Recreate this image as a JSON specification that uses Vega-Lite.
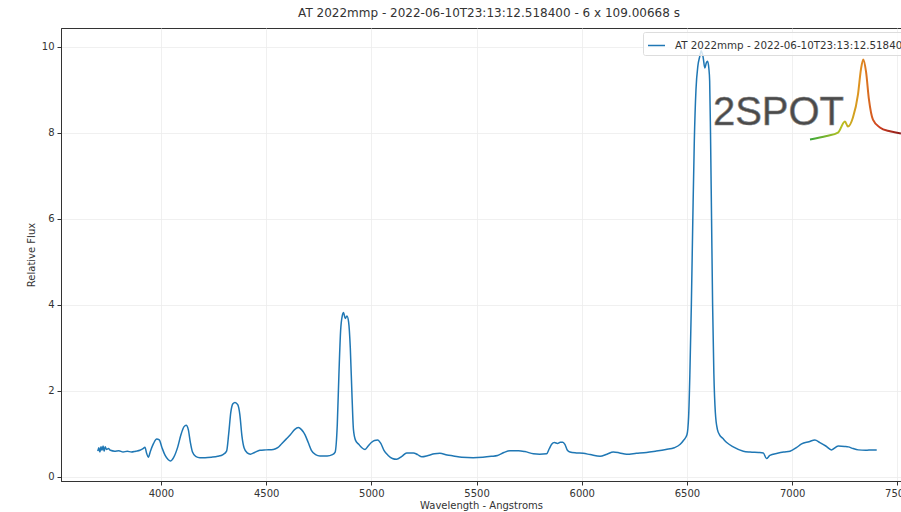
{
  "$schema": "https://vega.github.io/schema/vega-lite/v6.json",
  "autosize": {"type": "none"},
  "padding": {"left": 61, "top": 28, "right": 0, "bottom": 31},
  "width": 840,
  "height": 453,
  "background": "white",
  "title": {
    "text": "AT 2022mmp - 2022-06-10T23:13:12.518400 - 6 x 109.00668 s",
    "font": "DejaVu Sans",
    "fontSize": 12,
    "fontWeight": "normal",
    "color": "#333",
    "anchor": "middle",
    "offset": 8,
    "dx": 8
  },
  "datasets": {
    "spectrum": [
      {"wavelength": 3700, "flux": 0.60}, {"wavelength": 3705, "flux": 0.68}, {"wavelength": 3710, "flux": 0.58},
      {"wavelength": 3715, "flux": 0.70}, {"wavelength": 3720, "flux": 0.62}, {"wavelength": 3725, "flux": 0.72},
      {"wavelength": 3730, "flux": 0.60}, {"wavelength": 3735, "flux": 0.70}, {"wavelength": 3742, "flux": 0.64},
      {"wavelength": 3750, "flux": 0.66}, {"wavelength": 3760, "flux": 0.62}, {"wavelength": 3780, "flux": 0.60},
      {"wavelength": 3800, "flux": 0.61}, {"wavelength": 3820, "flux": 0.58}, {"wavelength": 3840, "flux": 0.60},
      {"wavelength": 3860, "flux": 0.58}, {"wavelength": 3880, "flux": 0.60}, {"wavelength": 3900, "flux": 0.62},
      {"wavelength": 3915, "flux": 0.66}, {"wavelength": 3924, "flux": 0.69}, {"wavelength": 3932, "flux": 0.55},
      {"wavelength": 3940, "flux": 0.46}, {"wavelength": 3950, "flux": 0.60}, {"wavelength": 3965, "flux": 0.78},
      {"wavelength": 3980, "flux": 0.88}, {"wavelength": 3992, "flux": 0.86}, {"wavelength": 4005, "flux": 0.68},
      {"wavelength": 4020, "flux": 0.50}, {"wavelength": 4035, "flux": 0.40}, {"wavelength": 4045, "flux": 0.37},
      {"wavelength": 4060, "flux": 0.45}, {"wavelength": 4080, "flux": 0.70}, {"wavelength": 4095, "flux": 0.98},
      {"wavelength": 4110, "flux": 1.17}, {"wavelength": 4120, "flux": 1.20}, {"wavelength": 4130, "flux": 1.10},
      {"wavelength": 4140, "flux": 0.80}, {"wavelength": 4150, "flux": 0.58}, {"wavelength": 4165, "flux": 0.48},
      {"wavelength": 4185, "flux": 0.45}, {"wavelength": 4210, "flux": 0.45}, {"wavelength": 4240, "flux": 0.46},
      {"wavelength": 4270, "flux": 0.48}, {"wavelength": 4295, "flux": 0.52}, {"wavelength": 4312, "flux": 0.60},
      {"wavelength": 4322, "flux": 1.00}, {"wavelength": 4332, "flux": 1.50}, {"wavelength": 4342, "flux": 1.70},
      {"wavelength": 4352, "flux": 1.73}, {"wavelength": 4365, "flux": 1.68}, {"wavelength": 4375, "flux": 1.45},
      {"wavelength": 4385, "flux": 0.95}, {"wavelength": 4395, "flux": 0.68}, {"wavelength": 4410, "flux": 0.56},
      {"wavelength": 4425, "flux": 0.53}, {"wavelength": 4445, "flux": 0.57}, {"wavelength": 4470, "flux": 0.62},
      {"wavelength": 4500, "flux": 0.63}, {"wavelength": 4534, "flux": 0.64}, {"wavelength": 4555, "flux": 0.68},
      {"wavelength": 4575, "flux": 0.78}, {"wavelength": 4595, "flux": 0.88}, {"wavelength": 4615, "flux": 0.98},
      {"wavelength": 4635, "flux": 1.10}, {"wavelength": 4653, "flux": 1.15}, {"wavelength": 4668, "flux": 1.10},
      {"wavelength": 4685, "flux": 0.98}, {"wavelength": 4700, "flux": 0.80}, {"wavelength": 4715, "flux": 0.62},
      {"wavelength": 4735, "flux": 0.52}, {"wavelength": 4756, "flux": 0.49}, {"wavelength": 4790, "flux": 0.49},
      {"wavelength": 4815, "flux": 0.52}, {"wavelength": 4828, "flux": 0.58}, {"wavelength": 4838, "flux": 1.20},
      {"wavelength": 4846, "flux": 2.40}, {"wavelength": 4854, "flux": 3.40}, {"wavelength": 4862, "flux": 3.75},
      {"wavelength": 4868, "flux": 3.82}, {"wavelength": 4876, "flux": 3.68}, {"wavelength": 4884, "flux": 3.74},
      {"wavelength": 4892, "flux": 3.60}, {"wavelength": 4900, "flux": 3.00}, {"wavelength": 4908, "flux": 1.90},
      {"wavelength": 4915, "flux": 1.10}, {"wavelength": 4925, "flux": 0.85}, {"wavelength": 4940, "flux": 0.76},
      {"wavelength": 4955, "flux": 0.68}, {"wavelength": 4970, "flux": 0.64}, {"wavelength": 4985, "flux": 0.72},
      {"wavelength": 5000, "flux": 0.80}, {"wavelength": 5015, "flux": 0.85}, {"wavelength": 5030, "flux": 0.86},
      {"wavelength": 5045, "flux": 0.78}, {"wavelength": 5060, "flux": 0.62}, {"wavelength": 5080, "flux": 0.50},
      {"wavelength": 5100, "flux": 0.43}, {"wavelength": 5120, "flux": 0.41}, {"wavelength": 5145, "flux": 0.48},
      {"wavelength": 5168, "flux": 0.56}, {"wavelength": 5200, "flux": 0.56}, {"wavelength": 5220, "flux": 0.52},
      {"wavelength": 5240, "flux": 0.47}, {"wavelength": 5270, "flux": 0.50}, {"wavelength": 5300, "flux": 0.54},
      {"wavelength": 5326, "flux": 0.55}, {"wavelength": 5360, "flux": 0.51}, {"wavelength": 5390, "flux": 0.49},
      {"wavelength": 5430, "flux": 0.46}, {"wavelength": 5484, "flux": 0.45}, {"wavelength": 5530, "flux": 0.46},
      {"wavelength": 5570, "flux": 0.48}, {"wavelength": 5600, "flux": 0.50}, {"wavelength": 5630, "flux": 0.57},
      {"wavelength": 5659, "flux": 0.61}, {"wavelength": 5700, "flux": 0.61}, {"wavelength": 5730, "flux": 0.59},
      {"wavelength": 5770, "flux": 0.54}, {"wavelength": 5800, "flux": 0.53}, {"wavelength": 5833, "flux": 0.54},
      {"wavelength": 5845, "flux": 0.65}, {"wavelength": 5857, "flux": 0.76}, {"wavelength": 5870, "flux": 0.80},
      {"wavelength": 5885, "flux": 0.78}, {"wavelength": 5898, "flux": 0.81}, {"wavelength": 5910, "flux": 0.81},
      {"wavelength": 5920, "flux": 0.76}, {"wavelength": 5932, "flux": 0.62}, {"wavelength": 5944, "flux": 0.58},
      {"wavelength": 5975, "flux": 0.56}, {"wavelength": 6007, "flux": 0.55}, {"wavelength": 6040, "flux": 0.52},
      {"wavelength": 6087, "flux": 0.48}, {"wavelength": 6120, "flux": 0.53}, {"wavelength": 6150, "flux": 0.58},
      {"wavelength": 6180, "flux": 0.56}, {"wavelength": 6213, "flux": 0.53}, {"wavelength": 6260, "flux": 0.55},
      {"wavelength": 6308, "flux": 0.57}, {"wavelength": 6350, "flux": 0.60}, {"wavelength": 6400, "flux": 0.64},
      {"wavelength": 6440, "flux": 0.68}, {"wavelength": 6468, "flux": 0.76}, {"wavelength": 6485, "flux": 0.86},
      {"wavelength": 6500, "flux": 0.98}, {"wavelength": 6508, "flux": 1.40}, {"wavelength": 6514, "flux": 2.40},
      {"wavelength": 6521, "flux": 4.00}, {"wavelength": 6528, "flux": 6.00}, {"wavelength": 6535, "flux": 7.80},
      {"wavelength": 6543, "flux": 9.00}, {"wavelength": 6552, "flux": 9.55}, {"wavelength": 6560, "flux": 9.75},
      {"wavelength": 6568, "flux": 9.90}, {"wavelength": 6577, "flux": 9.75}, {"wavelength": 6585, "flux": 9.50},
      {"wavelength": 6592, "flux": 9.62}, {"wavelength": 6598, "flux": 9.66}, {"wavelength": 6604, "flux": 9.50},
      {"wavelength": 6608, "flux": 9.20}, {"wavelength": 6612, "flux": 8.00}, {"wavelength": 6617, "flux": 6.00},
      {"wavelength": 6622, "flux": 4.00}, {"wavelength": 6628, "flux": 2.40}, {"wavelength": 6635, "flux": 1.50},
      {"wavelength": 6645, "flux": 1.10}, {"wavelength": 6655, "flux": 0.98}, {"wavelength": 6670, "flux": 0.90},
      {"wavelength": 6689, "flux": 0.80}, {"wavelength": 6720, "flux": 0.70}, {"wavelength": 6768, "flux": 0.60},
      {"wavelength": 6800, "flux": 0.58}, {"wavelength": 6840, "flux": 0.57}, {"wavelength": 6863, "flux": 0.56},
      {"wavelength": 6878, "flux": 0.43}, {"wavelength": 6894, "flux": 0.50}, {"wavelength": 6930, "flux": 0.55},
      {"wavelength": 6960, "flux": 0.58}, {"wavelength": 6990, "flux": 0.60}, {"wavelength": 7020, "flux": 0.68},
      {"wavelength": 7045, "flux": 0.77}, {"wavelength": 7080, "flux": 0.82}, {"wavelength": 7108, "flux": 0.86},
      {"wavelength": 7132, "flux": 0.80}, {"wavelength": 7160, "flux": 0.72}, {"wavelength": 7187, "flux": 0.63},
      {"wavelength": 7219, "flux": 0.72}, {"wavelength": 7250, "flux": 0.71}, {"wavelength": 7267, "flux": 0.70},
      {"wavelength": 7290, "flux": 0.66}, {"wavelength": 7314, "flux": 0.63}, {"wavelength": 7350, "flux": 0.62},
      {"wavelength": 7380, "flux": 0.63}, {"wavelength": 7402, "flux": 0.63}
    ],
    "logoCurve": [
      {"wavelength": 7085, "flux": 7.84}, {"wavelength": 7164, "flux": 7.92}, {"wavelength": 7218, "flux": 8.00},
      {"wavelength": 7251, "flux": 8.26}, {"wavelength": 7265, "flux": 8.14}, {"wavelength": 7289, "flux": 8.35},
      {"wavelength": 7313, "flux": 8.89}, {"wavelength": 7327, "flux": 9.47}, {"wavelength": 7338, "flux": 9.70},
      {"wavelength": 7351, "flux": 9.42}, {"wavelength": 7365, "flux": 8.77}, {"wavelength": 7384, "flux": 8.30},
      {"wavelength": 7417, "flux": 8.12}, {"wavelength": 7465, "flux": 8.03}, {"wavelength": 7517, "flux": 7.98}
    ],
    "logoText": [
      {"wavelength": 6935, "flux": 8.45, "label": "2SPOT"}
    ]
  },
  "layer": [
    {
      "data": {"name": "spectrum"},
      "mark": {"type": "line", "strokeWidth": 1.5, "interpolate": "monotone"},
      "encoding": {
        "x": {
          "field": "wavelength", "type": "quantitative",
          "scale": {"domain": [3525, 7517.4], "nice": false, "zero": false},
          "axis": {"title": "Wavelength - Angstroms", "values": [4000, 4500, 5000, 5500, 6000, 6500, 7000, 7500], "format": "d", "labelFlush": false, "labelOverlap": false, "labelBound": false, "titlePadding": 2}
        },
        "y": {
          "field": "flux", "type": "quantitative",
          "scale": {"domain": [-0.093, 10.43], "nice": false, "zero": false},
          "axis": {"title": "Relative Flux", "values": [0, 2, 4, 6, 8, 10], "labelFlush": false, "labelOverlap": false, "titlePadding": 5}
        },
        "color": {
          "datum": "AT 2022mmp - 2022-06-10T23:13:12.518400 - 6 x 109.00668 s",
          "scale": {"range": ["#1f77b4"]},
          "legend": {
            "title": null, "orient": "none", "legendX": 582, "legendY": 4,
            "symbolType": "stroke", "symbolSize": 289, "symbolStrokeWidth": 1.5,
            "labelFontSize": 10.3, "labelFont": "DejaVu Sans", "labelColor": "#333", "labelLimit": 1000,
            "labelOffset": 9, "padding": 4, "strokeColor": "#dddddd", "fillColor": "rgba(255,255,255,0.8)", "cornerRadius": 2
          }
        }
      }
    },
    {
      "data": {"name": "logoText"},
      "mark": {"type": "text", "font": "Liberation Sans", "fontSize": 40, "fill": "#4a4a4a", "stroke": "#888", "strokeWidth": 0.6, "align": "center", "baseline": "middle"},
      "encoding": {
        "x": {"field": "wavelength", "type": "quantitative"},
        "y": {"field": "flux", "type": "quantitative"},
        "text": {"field": "label"}
      }
    },
    {
      "data": {"name": "logoCurve"},
      "mark": {
        "type": "line", "strokeWidth": 2, "interpolate": "monotone",
        "stroke": {"gradient": "linear", "x1": 0, "y1": 0, "x2": 1, "y2": 0,
          "stops": [
            {"offset": 0, "color": "#3aa83a"},
            {"offset": 0.35, "color": "#b8c020"},
            {"offset": 0.55, "color": "#e09020"},
            {"offset": 0.75, "color": "#d04020"},
            {"offset": 1, "color": "#8a1a1a"}
          ]}
      },
      "encoding": {
        "x": {"field": "wavelength", "type": "quantitative"},
        "y": {"field": "flux", "type": "quantitative"}
      }
    }
  ],
  "config": {
    "view": {"stroke": "#333", "strokeWidth": 1},
    "axis": {
      "labelFont": "DejaVu Sans", "titleFont": "DejaVu Sans",
      "labelFontSize": 10, "titleFontSize": 10, "titleFontWeight": "normal",
      "labelColor": "#333", "titleColor": "#333",
      "domainColor": "#333", "tickColor": "#333", "tickSize": 4, "labelPadding": 3,
      "grid": true, "gridColor": "#ececec", "gridWidth": 0.8
    }
  }
}
